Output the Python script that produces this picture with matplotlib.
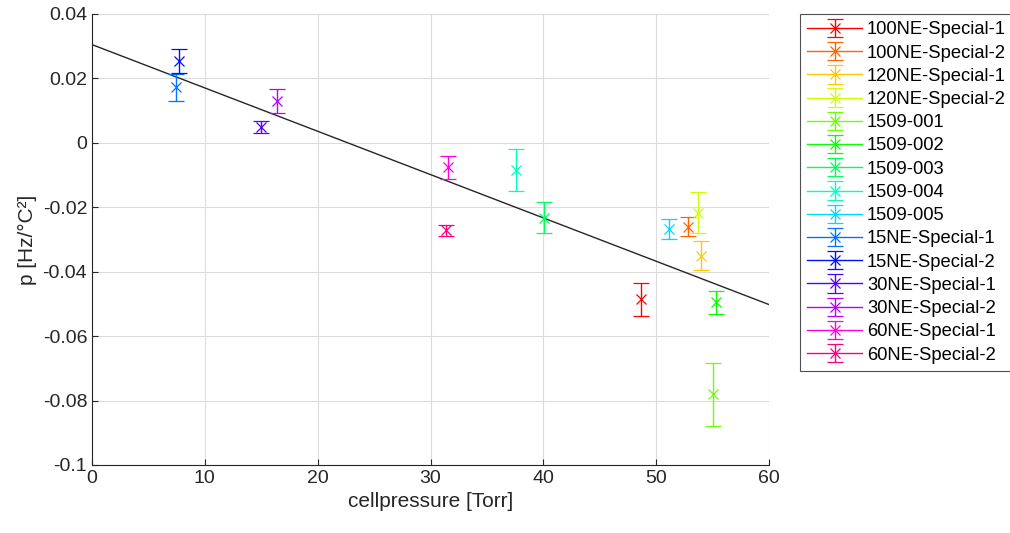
import matplotlib

matplotlib.use("Agg")
import matplotlib.pyplot as plt
import numpy as np

plt.rcParams["font.family"] = ["Liberation Sans", "DejaVu Sans"]

names = [
    "100NE-Special-1", "100NE-Special-2", "120NE-Special-1", "120NE-Special-2",
    "1509-001", "1509-002", "1509-003", "1509-004", "1509-005",
    "15NE-Special-1", "15NE-Special-2", "30NE-Special-1", "30NE-Special-2",
    "60NE-Special-1", "60NE-Special-2",
]
pressure = [48.67, 52.84, 53.96, 53.69, 55.02, 55.26, 40.10, 37.59, 51.18,
            7.45, 7.74, 14.98, 16.40, 31.59, 31.36]
p_coef = [-0.0486, -0.0260, -0.0351, -0.0217, -0.0781, -0.0495, -0.0232, -0.0085,
          -0.0267, 0.0172, 0.0254, 0.0050, 0.0130, -0.0076, -0.0271]
p_err = [0.0052, 0.0030, 0.0045, 0.0063, 0.0099, 0.0036, 0.0048, 0.0065,
         0.0032, 0.0043, 0.0038, 0.0018, 0.0038, 0.0035, 0.0017]

# linear fit p = a + b * pressure
fit_a = 0.0305
fit_b = -0.001345

fig = plt.figure(figsize=(10.1, 5.33), dpi=100)
ax = fig.add_axes([92 / 1010, 1 - 465 / 533, (769 - 92) / 1010, (465 - 14) / 533])

colors = plt.cm.hsv(np.linspace(0, 1, len(names), endpoint=False))
for name, x, y, e, c in zip(names, pressure, p_coef, p_err, colors):
    # "-x": a single point draws no line, but the legend handle gets one
    ax.errorbar(x, y, yerr=e, fmt="-x", color=c, ecolor=c, lw=1, elinewidth=1,
                capsize=6, capthick=1, markersize=7, mew=0.9, label=name)

xf = np.array([0, 60])
ax.plot(xf, fit_a + fit_b * xf, color="#262626", lw=1, zorder=1)

ax.set_xlim(0, 60)
ax.set_ylim(-0.1, 0.04)
ax.set_xticks(np.arange(0, 61, 10))
ax.set_yticks(np.arange(-0.1, 0.041, 0.02))
ax.set_yticklabels(["-0.1", "-0.08", "-0.06", "-0.04", "-0.02", "0", "0.02", "0.04"])
ax.grid(True, color="#dcdcdc", lw=0.8)
ax.set_axisbelow(True)
for s in ("top", "right"):
    ax.spines[s].set_visible(False)
for s in ("left", "bottom"):
    ax.spines[s].set_color("#262626")
    ax.spines[s].set_linewidth(0.8)
ax.tick_params(direction="in", length=4, color="#262626", labelsize=14,
               labelcolor="#262626")
ax.set_xlabel("cellpressure [Torr]", fontsize=15, color="#262626")
ax.set_ylabel("p [Hz/°C²]", fontsize=15, color="#262626")

leg = ax.legend(loc="upper left", bbox_to_anchor=(800 / 1010, 1 - 14 / 533),
                bbox_transform=fig.transFigure, fontsize=13.2, frameon=True,
                fancybox=False, edgecolor="#262626", handlelength=3.0,
                borderpad=0.4, borderaxespad=0, labelspacing=0.34,
                handletextpad=0.25)
leg.get_frame().set_linewidth(0.8)

fig.savefig("out.png", dpi=100)
